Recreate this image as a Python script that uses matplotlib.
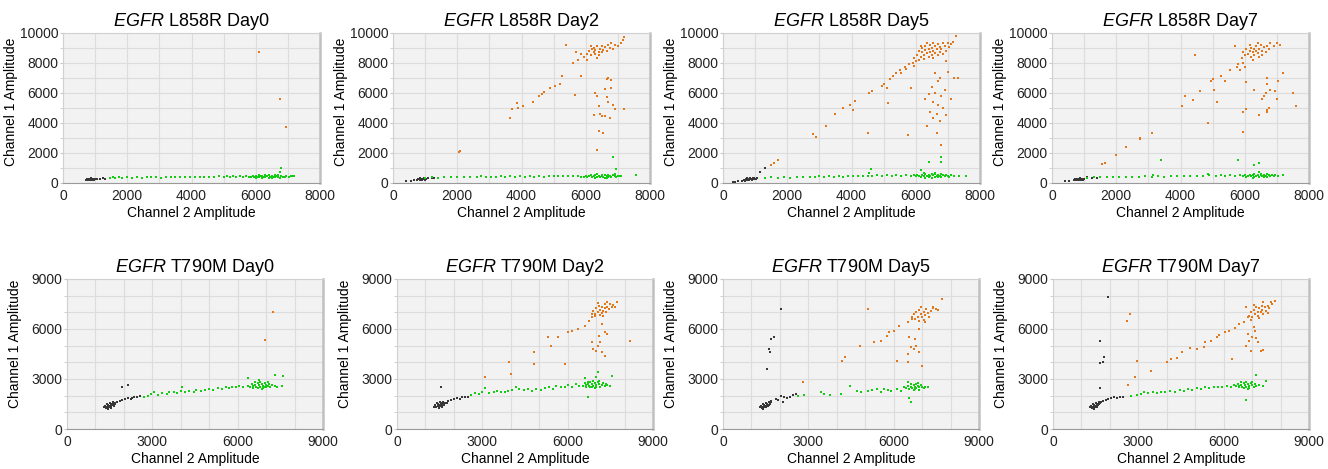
import numpy as np
import matplotlib.pyplot as plt
from matplotlib.ticker import MultipleLocator

plt.rcParams['font.family'] = ['Liberation Sans', 'DejaVu Sans']
plt.rcParams['mathtext.fontset'] = 'custom'
plt.rcParams['mathtext.it'] = 'Liberation Sans:italic'
plt.rcParams['mathtext.rm'] = 'Liberation Sans'

# droplet amplitudes, (channel 2, channel 1)
# ---- EGFR L858R ----
l858r_d0_neg = [(720,210),(740,260),(760,230),(780,280),(800,250),(810,200),(830,270),(850,230),(860,300),(880,250),
                (900,210),(910,280),(930,240),(950,270),(970,220),(990,260),(1050,270),(1150,290),(1250,300),(1320,290)]
l858r_d0_fam = [(1450,330),(1550,370),(1620,350),(1750,380),(1850,340),(2000,390),(2150,360),(2300,380),(2450,350),
                (2600,400),(2750,370),(2900,390),(3050,360),(3200,400),(3350,380),(3500,410),(3650,370),(3800,400),
                (3950,420),(4100,380),(4250,410),(4400,430),(4550,390),(4700,420),(4850,440),(5000,410),(5100,450),
                (5200,420),(5300,460),(5400,430),(5500,450),(5600,410),(5700,470),
                (5800,420),(5850,380),(5900,450),(5950,400),(6000,360),(6000,480),(6050,430),(6100,390),(6100,520),
                (6150,450),(6200,340),(6200,470),(6250,410),(6300,500),(6300,380),(6350,440),(6400,360),(6400,530),
                (6450,420),(6500,470),(6500,330),(6550,400),(6600,500),(6600,370),(6650,450),(6700,410),(6700,540),
                (6750,360),(6800,470),(6850,420),(6900,380),(6950,460),(7050,430),(7150,450),
                (6750,700),(6800,1000),(7100,470),(7200,440)]
l858r_d0_hex = [(6100,8700),(6750,5600),(6950,3700)]

l858r_d2_neg = [(400,120),(550,150),(650,180),(750,220),(780,270),(800,240),(830,300),(850,210),(870,260),(890,290),
                (910,230),(930,270),(950,250),(970,300),(990,220),(1020,260),(1100,300),(1200,320),(1280,330)]
l858r_d2_fam = [(1000,350),(1200,380),(1400,360),(1600,400),(1800,370),(2000,390),(2200,410),(2400,380),(2600,420),
                (2750,460),(2900,400),(3050,430),(3200,410),(3350,450),(3500,420),(3650,440),(3800,400),(3950,450),
                (4100,430),(4250,470),(4400,420),(4550,460),(4700,430),(4850,480),(5000,450),(5150,470),(5300,440),
                (5450,480),(5600,450),(5750,470),(5850,430),
                (5950,420),(6000,470),(6050,380),(6100,450),(6150,510),(6200,400),(6250,460),(6300,350),(6300,540),
                (6350,430),(6400,480),(6450,380),(6500,460),(6500,560),(6550,420),(6600,350),(6600,500),(6650,440),
                (6700,390),(6700,520),(6750,460),(6800,410),(6850,500),(6900,440),(6950,380),(7000,470),(7100,450),
                (6350,600),(6650,300),
                (6850,1750),(6950,950),(7050,480),(7550,500),(6900,620)]
l858r_d2_hex = [(2050,2050),(2100,2100),(3650,4300),(3700,4950),(3850,5300),(3900,5000),(4050,5150),(4350,5400),
                (4550,5800),(4650,5950),(4700,6050),(4900,6300),(5050,6450),(5200,6600),(5250,7100),(5400,9200),
                (5600,8000),(5650,5850),(5750,8200),(5850,7100),(5850,8600),(5700,8700),
                (6250,4500),(6300,6000),(6350,5800),(6400,5100),(6450,4600),(6500,4450),(6550,3300),(6400,3450),
                (6350,2200),(6600,6250),(6650,5750),(6700,5400),(6700,7000),(6800,6850),(6800,6300),(6850,5200),
                (6900,4900),(6650,6950),(7200,4900),(6750,4300),(6600,4450),
                (6050,8600),(6100,8800),(6150,8500),(6200,8900),(6250,8700),(6250,9000),(6300,8600),(6300,8850),
                (6350,9100),(6400,8750),(6400,8500),(6450,8950),(6500,8700),(6500,9150),(6550,8850),(6600,9050),
                (6650,8800),(6700,9200),(6750,9000),(6800,9300),(6850,8900),(6900,9200),(7000,9100),(7100,9300),
                (7200,9700),(7150,9500),(6150,9100),(5950,8400),(6050,8200),(6350,8300)]

l858r_d5_neg = [(300,50),(380,70),(480,100),(580,130),(650,180),(680,230),(700,160),(720,260),(740,200),(760,300),
                (780,230),(800,270),(820,190),(840,320),(860,240),(880,280),(900,210),(920,330),(940,260),(960,300),
                (980,240),(1000,290),(1030,260),(1050,330),(1150,700),(1300,1000)]
l858r_d5_fam = [(1300,330),(1500,370),(1700,350),(1900,390),(2100,360),(2300,400),(2500,380),(2700,420),(2850,400),
                (3000,450),(3150,410),(3300,440),(3450,420),(3600,460),(3750,430),(3900,470),(4050,440),(4200,480),
                (4350,450),(4500,490),(4650,460),(4800,500),(4950,470),(5100,510),(5250,480),(5400,520),(5550,490),
                (5700,510),(5850,470),
                (5950,500),(6000,440),(6050,560),(6100,470),(6150,380),(6200,520),(6250,440),(6300,600),(6300,360),
                (6350,490),(6400,410),(6400,560),(6450,470),(6500,350),(6500,620),(6550,500),(6600,420),(6600,580),
                (6650,480),(6700,370),(6700,540),(6750,450),(6800,600),(6800,400),(6850,500),(6900,440),(6950,560),
                (7000,470),(7050,390),(7100,520),(7200,460),(7350,480),(6250,650),(6600,680),
                (4600,900),(6400,1400),(6800,1700),(6800,1400),(7550,470),(4550,650),(6150,850)]
l858r_d5_hex = [(1500,1200),(1600,1350),(1700,1500),(2800,3250),(2900,3050),(3200,3800),(3500,4600),(3750,5000),
                (3950,5200),(4050,4850),(4100,5450),(4500,3300),(4550,6000),(4650,6150),(4950,6450),(5000,6600),
                (5100,6300),(5150,5300),(5200,6900),(5300,7100),(5400,7300),(5500,7500),(5550,7350),(5650,7700),
                (5700,7600),(5800,7900),(5850,6300),(5900,8000),(5950,7800),(6000,8150),(5750,3200),(6100,8200),
                (5950,8300),
                (6300,5600),(6350,3800),(6400,5900),(6450,4700),(6500,6400),(6550,4300),(6550,5400),(6600,6000),
                (6650,3300),(6650,4600),(6700,5200),(6700,6800),(6750,4100),(6800,5800),(6800,2500),(6850,5000),
                (6900,6200),(6950,4500),(7000,7400),(7100,5600),(7200,7000),(7300,7000),(6750,7000),(6600,7300),
                (6050,8500),(6100,8800),(6150,8400),(6200,8700),(6200,9000),(6250,8550),(6300,8850),(6300,9150),
                (6350,8650),(6400,8950),(6400,8400),(6450,8750),(6450,9200),(6500,8550),(6500,9000),(6550,8800),
                (6550,9350),(6600,8650),(6600,9100),(6650,8900),(6700,8500),(6700,9250),(6750,8750),(6750,9050),
                (6800,8950),(6850,9300),(6850,8600),(6900,9150),(6950,8800),(7000,9300),(7050,9050),(7100,9250),
                (7150,9400),(7250,9800),(6350,9350),(6150,9150),(6550,8300),(6950,8100),(6250,8250)]

l858r_d7_neg = [(420,110),(520,140),(700,200),(730,260),(750,220),(780,290),(800,240),(820,190),(840,280),(860,230),
                (880,300),(900,250),(920,200),(940,270),(960,230),(980,290),(1000,250),(1100,400),(1250,320),(1400,300)]
l858r_d7_fam = [(1100,360),(1300,390),(1500,370),(1700,410),(1900,380),(2100,420),(2300,390),(2500,430),(2700,400),
                (2900,440),(3100,420),(3300,460),(3500,430),(3700,470),(3900,440),(4100,480),(4300,450),(4500,490),
                (4700,460),(4850,600),(4900,500),(5100,470),(5250,510),(5400,480),(5550,520),(5700,490),(5850,510),
                (5950,470),(6000,520),(6050,420),(6100,490),(6150,560),(6200,440),(6250,510),(6300,380),(6300,600),
                (6350,470),(6400,540),(6450,420),(6500,500),(6500,620),(6550,450),(6600,380),(6600,560),(6650,490),
                (6700,430),(6700,580),(6750,500),(6800,440),(6850,540),(6900,470),(6950,520),(7050,480),(7200,500),
                (6450,700),(6250,320),
                (3400,1550),(5800,1500),(6450,1300),(6300,1200),(3150,500)]
l858r_d7_hex = [(1550,1250),(1650,1300),(2000,1850),(2300,2400),(2750,2900),(2750,3000),(3100,3350),(4050,5100),
                (4150,5800),(4400,5500),(4450,8500),(4600,6100),(4850,4000),(4950,6800),(5000,6950),(5050,6200),
                (5150,5400),(5250,7100),(5400,6800),(5550,7500),(5700,9100),(5750,7700),(5800,7900),(5850,7500),
                (5950,8000),(6000,7700),
                (5950,3400),(5950,4700),(6050,4900),(6050,6700),(6300,6200),(6450,4500),(6550,5600),(6600,5800),
                (6650,6000),(6700,4700),(6700,7000),(6750,5000),(6800,6200),(6700,6600),(6950,6100),(7000,5600),
                (7050,6800),(7200,7300),(7500,6000),(7600,5100),(6700,4850),
                (5900,8300),(5950,8700),(6000,8500),(6050,8900),(6100,8600),(6150,8800),(6200,8400),(6200,9000),
                (6250,8700),(6300,8900),(6300,8550),(6350,8800),(6350,9100),(6400,8650),(6450,8950),(6450,8400),
                (6500,9200),(6550,8800),(6600,9050),(6650,8700),(6700,9150),(6750,8900),(6800,9300),(6900,9100),
                (7000,9300),(7100,9200),(6400,9300),(6150,9200),(6550,8500),(6250,8200)]

# ---- EGFR T790M ----
t790m_d0_neg = [(1300,1300),(1350,1400),(1380,1250),(1400,1500),(1420,1350),(1450,1450),(1470,1300),(1500,1550),
                (1500,1400),(1530,1350),(1550,1500),(1570,1420),(1600,1600),(1620,1480),(1650,1380),(1680,1550),
                (1700,1500),(1450,1200),(1550,1280),(1350,1330),
                (1750,1650),(1850,1700),(1950,1750),(2050,1800),(2150,1850),(2250,1800),(2350,1900),(2450,1950),
                (2550,2000),(1950,2500),(2150,2650),(2300,1850)]
t790m_d0_fam = [(2700,1950),(2850,2000),(2950,2100),(3050,2200),(3200,2050),(3350,2150),(3500,2100),(3600,2200),
                (3750,2250),(3850,2150),(4000,2300),(4050,2550),(4150,2250),(4300,2300),(4450,2200),(4550,2350),
                (4700,2300),(4850,2350),(5000,2400),(5150,2350),(5300,2450),(5450,2400),(5600,2500),(5700,2450),
                (5800,2550),(5950,2500),(6050,2600),(6200,2550),(6350,2600),
                (6450,2550),(6500,2700),(6550,2450),(6600,2650),(6650,2550),(6700,2750),(6700,2450),(6750,2650),
                (6800,2550),(6800,2850),(6850,2700),(6900,2600),(6900,2450),(6950,2750),(7000,2650),(7000,2500),
                (7050,2600),(7100,2700),(7150,2550),(7200,2650),(7300,2600),(7400,2550),(6600,2800),(6850,2400),
                (6750,2950),(7050,2800),(6550,2600),(6950,2550),
                (6350,3050),(7300,3250),(7600,3200),(7550,2600)]
t790m_d0_hex = [(7250,7050),(6950,5350)]

t790m_d2_neg = [(1300,1350),(1350,1450),(1380,1300),(1400,1550),(1430,1400),(1450,1500),(1480,1350),(1500,1600),
                (1500,1450),(1530,1380),(1560,1550),(1580,1450),(1600,1650),(1630,1500),(1660,1420),(1690,1580),
                (1720,1550),(1460,1250),(1570,1320),(1350,1380),
                (1800,1700),(1900,1750),(2000,1800),(2100,1850),(2200,1800),(2300,1900),(2400,1950),(2500,1900),
                (1550,2550),(1750,1550)]
t790m_d2_fam = [(2600,2050),(2750,2150),(2900,2100),(3000,2250),(3100,2450),(3250,2150),(3400,2200),(3500,2300),
                (3650,2250),(3800,2200),(3900,2300),(4050,2350),(4200,2500),(4300,2400),(4450,2350),(4600,2400),
                (4750,2300),(4900,2400),(5050,2350),(5200,2450),(5350,2500),(5500,2400),(5600,2600),(5750,2500),
                (5900,2550),(6000,2650),(6150,2550),(6300,2700),(6400,2600),
                (6550,2600),(6600,2750),(6650,2500),(6700,2700),(6750,2600),(6800,2800),(6800,2500),(6850,2700),
                (6900,2600),(6900,2900),(6950,2750),(7000,2650),(7000,2500),(7050,2800),(7100,2700),(7150,2550),
                (7200,2650),(7250,2750),(7300,2600),(7400,2650),(7500,2600),(6700,2850),(6950,2450),(7100,2900),
                (6650,2650),(6850,2550),(7350,2700),
                (6700,1900),(7050,3400),(7550,3200),(7000,3100),(6600,3050)]
t790m_d2_hex = [(3100,3100),(3950,4000),(4000,3300),(4800,4600),(4800,3900),(5300,5500),(5400,5000),(5650,5500),
                (5900,3900),(6000,5800),(6150,5900),(6350,6000),(6600,6200),(6750,6500),(6850,6700),(6950,6900),
                (6850,5200),(6900,4800),(7000,4700),(7050,5000),(7100,5600),(7150,5200),(7200,4600),(7300,4400),
                (7300,5800),(7400,5700),(7200,6300),(8200,5300),
                (6850,6900),(6900,7100),(6950,6800),(7000,7250),(7050,7000),(7100,7400),(7150,7150),(7200,6950),
                (7200,7350),(7250,7100),(7300,7500),(7300,7250),(7350,7000),(7400,7350),(7450,7200),(7500,7500),
                (7550,7300),(7600,7450),(7650,7350),(7750,7600),(7050,7550),(7150,6850),(7400,7600),(7250,6800)]

t790m_d5_neg = [(1300,1300),(1350,1400),(1370,1250),(1400,1500),(1420,1350),(1450,1450),(1470,1300),(1500,1550),
                (1500,1400),(1520,1300),(1550,1480),(1570,1380),(1600,1600),(1620,1450),(1650,1520),(1680,1600),
                (1400,1200),(1340,1330),
                (1700,1700),(1850,1800),(1950,1750),(2050,2000),(2150,1900),(2250,1850),(2350,1950),(2450,2050),
                (2550,2100),(1650,4600),(1600,4800),(1700,5400),(1800,5500),(1550,3600),(2050,7200),(2100,1600)]
t790m_d5_fam = [(2650,2000),(2850,2050),(3450,2200),(3550,2100),(3750,2050),(4150,2100),(4450,2600),(4700,2300),
                (4850,2250),(5100,2300),(5250,2350),(5400,2400),(5550,2250),(5650,2400),(5800,2350),(5900,2300),
                (6100,2400),(6250,2300),(6350,2500),
                (6450,2450),(6500,2600),(6550,2400),(6600,2550),(6650,2450),(6700,2650),(6700,2350),(6750,2550),
                (6800,2450),(6800,2700),(6850,2600),(6900,2500),(6900,2350),(6950,2650),(7000,2500),(7050,2450),
                (7100,2550),(7200,2500),(6600,2700),(6750,2400),(6850,2750),
                (6600,1600),(6550,1850),(6500,2800)]
t790m_d5_hex = [(2800,2850),(4200,4100),(4300,4300),(4800,5000),(5100,7200),(5300,5200),(5550,5300),(5750,5600),
                (5850,5850),(6000,5900),(6200,6200),(6500,6400),(6650,6600),
                (6100,4100),(6500,4000),(6500,4500),(6600,4950),(6700,4800),(6800,5000),(6900,4600),(7000,3800),
                (6750,5400),(6550,5500),(6900,6000),
                (6650,6700),(6700,6900),(6750,6600),(6800,7000),(6850,6750),(6900,6500),(6900,7150),(6950,6900),
                (7000,6700),(7050,7050),(7100,6850),(7100,6450),(7150,7200),(7200,6950),(7250,6750),(7300,7100),
                (7400,7250),(7500,7200),(7550,7150),(7700,7800),(7400,7300),(6950,7300),(7050,6550)]

t790m_d7_neg = [(1300,1300),(1350,1400),(1380,1250),(1400,1500),(1420,1350),(1450,1450),(1470,1300),(1500,1550),
                (1500,1400),(1530,1350),(1550,1500),(1580,1420),(1600,1600),(1620,1480),(1650,1550),(1700,1650),
                (1450,1200),(1350,1330),
                (1750,1700),(1850,1750),(1950,1800),(2050,1850),(2150,1900),(2250,1850),(2350,1950),(2450,1900),
                (1750,4000),(1800,4300),(1650,3950),(1650,5300),(1950,7900),(1650,2450)]
t790m_d7_fam = [(2750,2000),(2950,2050),(3100,2100),(3200,2250),(3350,2150),(3500,2200),(3650,2150),(3800,2250),
                (3950,2200),(4100,2300),(4300,2250),(4450,2350),(4600,2300),(4750,2400),(4900,2350),(5050,2450),
                (5200,2400),(5350,2500),(5500,2450),(5650,2550),(5800,2500),(5950,2550),(6100,2600),(6250,2550),
                (6350,2650),
                (6450,2600),(6500,2700),(6550,2500),(6600,2650),(6650,2550),(6700,2750),(6700,2450),(6750,2650),
                (6800,2550),(6800,2850),(6850,2700),(6900,2600),(6900,2450),(6950,2750),(7000,2650),(7050,2550),
                (7100,2700),(7150,2600),(7250,2650),(7400,2600),(6600,2800),(6850,2400),(7000,2850),(6550,2600),
                (6800,1750),(7150,3250),(7500,2900)]
t790m_d7_hex = [(2650,2650),(2600,6500),(2700,6900),(2900,3100),(2950,4100),(3450,3500),(4000,4000),(4150,4200),
                (4350,4250),(4550,4650),(4800,4850),(5050,4800),(5300,4900),(5350,5250),(5550,5300),(5750,5550),
                (5850,5650),(6050,5800),(6200,5900),(6400,6050),(6550,6300),(6700,6450),(6850,6750),(6300,4200),
                (6800,5000),(6900,5300),(7000,5500),(7100,5900),(7200,5200),(7300,4700),(7400,4750),(6950,4700),
                (7150,5450),(6850,5700),(7050,6100),
                (6900,6800),(6950,7000),(7000,6700),(7050,7150),(7100,6900),(7150,7300),(7200,7050),(7200,6800),
                (7250,7250),(7300,7000),(7350,7400),(7350,7150),(7400,6900),(7450,7300),(7500,7100),(7550,7400),
                (7600,7250),(7700,7500),(7800,7700),(7050,7450),(7250,6650),(6800,7350),(7400,7600),(6950,6550),
                (7550,6950),(7650,7650)]

days = ['Day0', 'Day2', 'Day5', 'Day7']
l858r_sets = [(l858r_d0_neg, l858r_d0_fam, l858r_d0_hex), (l858r_d2_neg, l858r_d2_fam, l858r_d2_hex),
              (l858r_d5_neg, l858r_d5_fam, l858r_d5_hex), (l858r_d7_neg, l858r_d7_fam, l858r_d7_hex)]
t790m_sets = [(t790m_d0_neg, t790m_d0_fam, t790m_d0_hex), (t790m_d2_neg, t790m_d2_fam, t790m_d2_hex),
              (t790m_d5_neg, t790m_d5_fam, t790m_d5_hex), (t790m_d7_neg, t790m_d7_fam, t790m_d7_hex)]

W, H = 1328, 469
fig = plt.figure(figsize=(W / 100, H / 100), dpi=100)

top_left = [63, 393, 723, 1052]
bot_left = [67, 397, 723, 1053]


def draw(ax, neg, fam, hexp, lim, major, title, ylab_y):
    ax.set_facecolor('#f2f2f2')
    for pts, col in [(neg, '#383838'), (fam, '#14cc14'), (hexp, '#e2781a')]:
        a = np.array(pts)
        ax.scatter(a[:, 0], a[:, 1], s=2.2, marker='s', c=col, linewidths=0, zorder=3)
    ax.set_xlim(0, lim[0])
    ax.set_ylim(0, lim[1])
    ax.xaxis.set_major_locator(MultipleLocator(major[0]))
    ax.yaxis.set_major_locator(MultipleLocator(major[1]))
    ax.xaxis.set_minor_locator(MultipleLocator(1000))
    ax.yaxis.set_minor_locator(MultipleLocator(1000))
    ax.grid(True, which='both', color='#dcdcdc', lw=0.8, zorder=0)
    ax.set_axisbelow(True)
    ax.tick_params(which='major', labelsize=10, colors='#222222')
    ax.tick_params(axis='y', which='both', length=2.5, color='#c8c8c8', pad=1)
    ax.tick_params(axis='x', which='both', length=0, pad=4.5)
    for s in ['left', 'top']:
        ax.spines[s].set_color('#d0d0d0')
    ax.spines['bottom'].set_color('#9a9a9a')
    ax.spines['right'].set_color('#c0c0c0')
    ax.spines['right'].set_linewidth(1.8)
    ax.set_xlabel('Channel 2 Amplitude', fontsize=10, labelpad=2)
    ax.set_ylabel('Channel 1 Amplitude', fontsize=10)
    ax.yaxis.set_label_coords(-0.176, ylab_y)
    ax.set_title(title, fontsize=13, pad=5)


for i in range(4):
    ax = fig.add_axes([top_left[i] / W, 1 - 183 / H, 257 / W, 150 / H])
    neg, fam, hexp = l858r_sets[i]
    draw(ax, neg, fam, hexp, (8000, 10000), (2000, 2000), r'$\mathit{EGFR}$ L858R ' + days[i], 0.54)

    ax = fig.add_axes([bot_left[i] / W, 1 - 429 / H, 256 / W, 150 / H])
    neg, fam, hexp = t790m_sets[i]
    draw(ax, neg, fam, hexp, (9000, 9000), (3000, 3000), r'$\mathit{EGFR}$ T790M ' + days[i], 0.57)

fig.savefig('out.png', dpi=100)
